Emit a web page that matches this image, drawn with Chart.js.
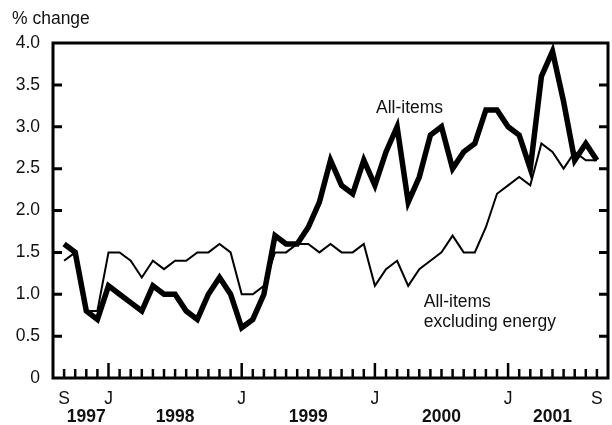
<!DOCTYPE html>
<html>
<head>
<meta charset="utf-8">
<script src="https://cdn.jsdelivr.net/npm/chart.js@4.4.1/dist/chart.umd.min.js"></script>
<style>
  html, body { margin: 0; padding: 0; background: #fff; }
</style>
</head>
<body>
<canvas id="chart" width="612" height="425"></canvas>
<script>
// Meses: septiembre 1997 a septiembre 2001
var months = [
  'Sep 1997','Oct 1997','Nov 1997','Dec 1997',
  'Jan 1998','Feb 1998','Mar 1998','Apr 1998','May 1998','Jun 1998','Jul 1998','Aug 1998','Sep 1998','Oct 1998','Nov 1998','Dec 1998',
  'Jan 1999','Feb 1999','Mar 1999','Apr 1999','May 1999','Jun 1999','Jul 1999','Aug 1999','Sep 1999','Oct 1999','Nov 1999','Dec 1999',
  'Jan 2000','Feb 2000','Mar 2000','Apr 2000','May 2000','Jun 2000','Jul 2000','Aug 2000','Sep 2000','Oct 2000','Nov 2000','Dec 2000',
  'Jan 2001','Feb 2001','Mar 2001','Apr 2001','May 2001','Jun 2001','Jul 2001','Aug 2001','Sep 2001'
];

// % change, all items
var allItems = [1.6,1.5,0.8,0.7,1.1,1.0,0.9,0.8,1.1,1.0,1.0,0.8,0.7,1.0,1.2,1.0,0.6,0.7,1.0,1.7,1.6,1.6,1.8,2.1,2.6,
                2.3,2.2,2.6,2.3,2.7,3.0,2.1,2.4,2.9,3.0,2.5,2.7,2.8,3.2,3.2,3.0,2.9,2.5,3.6,3.9,3.3,2.6,2.8,2.6];

// % change, all items excluding energy
var exEnergy = [1.4,1.5,0.8,0.8,1.5,1.5,1.4,1.2,1.4,1.3,1.4,1.4,1.5,1.5,1.6,1.5,1.0,1.0,1.1,1.5,1.5,1.6,1.6,1.5,1.6,
                1.5,1.5,1.6,1.1,1.3,1.4,1.1,1.3,1.4,1.5,1.7,1.5,1.5,1.8,2.2,2.3,2.4,2.3,2.8,2.7,2.5,2.7,2.6,2.6];

// Etiquetas del eje x
var monthTickIdx  = [0, 4, 16, 28, 40, 48];
var monthTickText = ['S', 'J', 'J', 'J', 'J', 'S'];
var yearTickIdx   = [2, 10, 22, 34, 44];
var yearTickText  = ['1997', '1998', '1999', '2000', '2001'];

var FONT = "'Liberation Sans', Arial, Helvetica, sans-serif";
var SIZE = 17.5;

function toPoints(arr) {
  return arr.map(function(v, i) { return { x: i, y: v }; });
}

// Marco, marcas hacia adentro y textos
var framePlugin = {
  id: 'frame',
  afterDatasetsDraw: function(chart) {
    var ctx = chart.ctx, a = chart.chartArea;
    var x = chart.scales.x, y = chart.scales.y;
    ctx.save();
    ctx.strokeStyle = '#000';
    ctx.lineWidth = 2.5;
    months.forEach(function(m, i) {
      var px = x.getPixelForValue(i);
      var len = m.indexOf('Jan') === 0 ? 15 : 9;
      ctx.beginPath();
      ctx.moveTo(px, a.bottom);
      ctx.lineTo(px, a.bottom - len);
      ctx.stroke();
    });
    ctx.lineWidth = 3;
    for (var v = 0.5; v < 4; v += 0.5) {
      var py = y.getPixelForValue(v);
      ctx.beginPath();
      ctx.moveTo(a.left, py); ctx.lineTo(a.left + 9, py);
      ctx.moveTo(a.right, py); ctx.lineTo(a.right - 9, py);
      ctx.stroke();
    }
    ctx.strokeRect(a.left, a.top, a.right - a.left, a.bottom - a.top);

    ctx.fillStyle = '#111';
    ctx.font = SIZE + 'px ' + FONT;
    ctx.textAlign = 'left';
    ctx.textBaseline = 'alphabetic';
    ctx.fillText('% change', 12, 23.5);
    ctx.fillText('All-items', x.getPixelForValue(28.1), y.getPixelForValue(3.16));
    ctx.fillText('All-items', x.getPixelForValue(32.4), y.getPixelForValue(0.85));
    ctx.fillText('excluding energy', x.getPixelForValue(32.4), y.getPixelForValue(0.61));
    ctx.restore();
  }
};

var data = {
  datasets: [{
    label: 'All-items',
    data: toPoints(allItems),
    borderColor: '#000',
    borderWidth: 5.5,
    borderJoinStyle: 'miter',
    pointRadius: 0,
    tension: 0
  }, {
    label: 'All-items excluding energy',
    data: toPoints(exEnergy),
    borderColor: '#000',
    borderWidth: 2,
    borderJoinStyle: 'miter',
    pointRadius: 0,
    tension: 0
  }]
};

var options = {
  responsive: false,
  animation: false,
  layout: { padding: { top: 43, right: 4, left: 0, bottom: 0 } },
  plugins: { legend: { display: false }, tooltip: { enabled: false } },
  scales: {
    x: {
      type: 'linear',
      position: 'bottom',
      min: -1,
      max: 49,
      grid: { display: false, drawTicks: false },
      border: { display: false },
      afterBuildTicks: function(scale) {
        scale.ticks = monthTickIdx.map(function(v) { return { value: v }; });
      },
      afterFit: function(scale) { scale.height = 28; scale.paddingRight = 0; },
      ticks: {
        autoSkip: false,
        maxRotation: 0,
        padding: 12,
        color: '#111',
        font: { family: FONT, size: SIZE, lineHeight: 1 },
        callback: function(value) {
          var k = monthTickIdx.indexOf(value);
          return k >= 0 ? monthTickText[k] : '';
        }
      }
    },
    x2: {
      type: 'linear',
      position: 'bottom',
      min: -1,
      max: 49,
      grid: { display: false, drawTicks: false },
      border: { display: false },
      afterBuildTicks: function(scale) {
        scale.ticks = yearTickIdx.map(function(v) { return { value: v }; });
      },
      afterFit: function(scale) { scale.height = 19; scale.paddingRight = 0; },
      ticks: {
        autoSkip: false,
        maxRotation: 0,
        padding: 2,
        color: '#111',
        font: { family: FONT, size: SIZE, weight: 'bold', lineHeight: 1 },
        callback: function(value) {
          var k = yearTickIdx.indexOf(value);
          return k >= 0 ? yearTickText[k] : '';
        }
      }
    },
    y: {
      min: 0,
      max: 4,
      grid: { display: false, drawTicks: false },
      border: { display: false },
      afterFit: function(scale) { scale.width = 53; },
      ticks: {
        stepSize: 0.5,
        padding: 13,
        color: '#111',
        font: { family: FONT, size: SIZE },
        callback: function(v) { return v === 0 ? '0' : v.toFixed(1); }
      }
    }
  }
};

var chart = new Chart('chart', {
  type: 'line',
  data: data,
  options: options,
  plugins: [framePlugin]
});
</script>
</body>
</html>
